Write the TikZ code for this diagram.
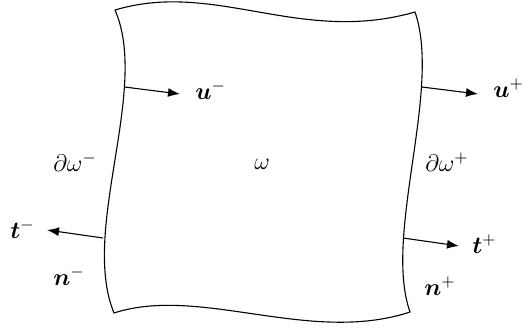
\documentclass[tikz,border=0pt]{standalone}
\usepackage{amsmath,bm}
\usepackage{tikz}
\usetikzlibrary{arrows.meta}
\tikzset{
  edge/.style={draw=black,line width=.55pt},
  load/.style={-{Latex[length=6pt,width=4.5pt]},draw=black,line width=.55pt},
  lbl/.style={inner sep=1pt,font=\large}
}
\begin{document}
\begin{tikzpicture}[x=.5pt,y=-.5pt]
  \useasboundingbox (0,0) rectangle (531,329);
  % corners of the domain
  \coordinate (tl) at (115,10); \coordinate (tr) at (415,12);
  \coordinate (br) at (410,312); \coordinate (bl) at (114,313);
  \draw[edge] (tl) .. controls (215,-20) and (300,45) .. (tr)
    .. controls (442,90) and (383,235) .. (br)
    .. controls (310,345) and (200,285) .. (bl)
    .. controls (80,230) and (150,90) .. (tl);
  % points on the boundary and arrow ends
  \coordinate (um0) at (124.5,87); \coordinate (um1) at (180,94);
  \coordinate (up0) at (422,87);   \coordinate (up1) at (478,94);
  \coordinate (tm0) at (103,238);  \coordinate (tm1) at (47,230);
  \coordinate (tp0) at (403,238);  \coordinate (tp1) at (459,246);
  \draw[load] (um0) -- (um1);
  \draw[load] (up0) -- (up1);
  \draw[load] (tm0) -- (tm1);
  \draw[load] (tp0) -- (tp1);
  \node[lbl,anchor=west] (um) at (193,90) {$\bm{u}^{-}$};
  \node[lbl,anchor=west] (up) at (491,88) {$\bm{u}^{+}$};
  \node[lbl,anchor=east] (tm) at (37,229) {$\bm{t}^{-}$};
  \node[lbl,anchor=west] (tp) at (470,244) {$\bm{t}^{+}$};
  \node[lbl] (dwm) at (75,162) {$\partial\omega^{-}$};
  \node[lbl] (dwp) at (447,162) {$\partial\omega^{+}$};
  \node[lbl] (w) at (262,164) {$\omega$};
  \node[lbl] (nm) at (69,276) {$\bm{n}^{-}$};
  \node[lbl] (np) at (440,286) {$\bm{n}^{+}$};
\end{tikzpicture}
\end{document}
